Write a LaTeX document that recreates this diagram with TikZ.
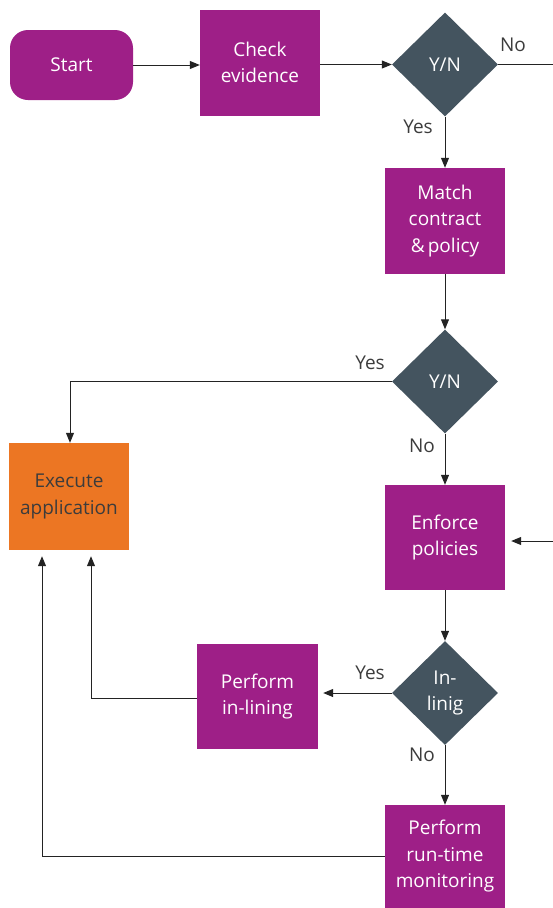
\documentclass[tikz,border=0pt]{standalone}
\usepackage{fontspec}
\setmainfont{Open Sans}
\usetikzlibrary{arrows.meta,shapes.geometric}
\definecolor{purp}{RGB}{158,31,135}
\definecolor{slate}{RGB}{68,84,95}
\definecolor{orng}{RGB}{236,118,35}
\definecolor{txtdark}{RGB}{60,60,60}
\definecolor{linec}{RGB}{35,35,35}
\begin{document}
\begin{tikzpicture}[x=1pt,y=-1pt,
  box/.style={fill=purp,text=white,minimum width=120pt,minimum height=106pt,align=center,inner sep=0pt,font=\fontsize{19}{26.5}\selectfont},
  startbox/.style={box,rounded corners=18pt,minimum width=123pt,minimum height=70pt},
  dec/.style={diamond,fill=slate,text=white,minimum width=106pt,minimum height=104pt,aspect=1,inner sep=0pt,align=center,font=\fontsize{19}{26}\selectfont},
  lbl/.style={text=txtdark,font=\fontsize{19}{22}\selectfont,inner sep=0pt},
  conn/.style={draw=linec,line width=1pt},
  arr/.style={conn,-{Triangle[length=10pt,width=8pt]}}
]
\useasboundingbox (0,0) rectangle (553,908);
\node[startbox] (start) at (71.5,65) {Start};
\node[box] (check) at (260,62.5) {Check\\evidence};
\node[dec] (d1) at (445,64.5) {Y/N};
\node[box] (match) at (445,221) {Match\\contract\\\&\,policy};
\node[dec] (d2) at (445,381.5) {Y/N};
\node[box,fill=orng,text=txtdark,minimum width=120pt,minimum height=107pt] (exec) at (69,496.5) {Execute\\application};
\node[box,minimum height=105pt] (enf) at (445,537.5) {Enforce\\policies};
\node[dec] (d3) at (445,693) {In-\\linig};
\node[box,minimum width=121pt,minimum height=105pt] (inl) at (257.5,696.5) {Perform\\in-lining};
\node[box,minimum height=103pt] (mon) at (445,856.5) {Perform\\run-time\\monitoring};

\coordinate (noend) at (553,64.5);
\coordinate (enfin) at (553,541);
\coordinate (c1) at (70,381.5);
\coordinate (c2) at (91,698);
\coordinate (c3) at (42,856.5);

\draw[arr] (start.east) -- (start.east -| check.west);
\draw[arr] (check.east |- d1.west) -- (d1.west);
\draw[conn] (d1.east) -- (noend);
\node[lbl] at (513,45) {No};
\draw[arr] (d1.south) -- (match.north);
\node[lbl] at (418,127) {Yes};
\draw[arr] (match.south) -- (d2.north);
\draw[arr] (d2.west) -- (c1) -- (exec.north -| c1);
\node[lbl] at (370,363) {Yes};
\draw[arr] (d2.south) -- (enf.north);
\node[lbl] at (422,446) {No};
\draw[arr,shorten >=6pt] (enfin) -- (enf.east |- enfin);
\draw[arr] (enf.south) -- (d3.north);
\draw[arr,shorten >=5pt] (d3.west) -- (inl.east |- d3.west);
\node[lbl] at (370,673) {Yes};
\draw[arr] (d3.south) -- (mon.north);
\node[lbl] at (422,755) {No};
\draw[arr,shorten >=6pt] (inl.west |- c2) -- (c2) -- (exec.south -| c2);
\draw[arr,shorten >=6pt] (mon.west) -- (c3) -- (exec.south -| c3);
\end{tikzpicture}
\end{document}
